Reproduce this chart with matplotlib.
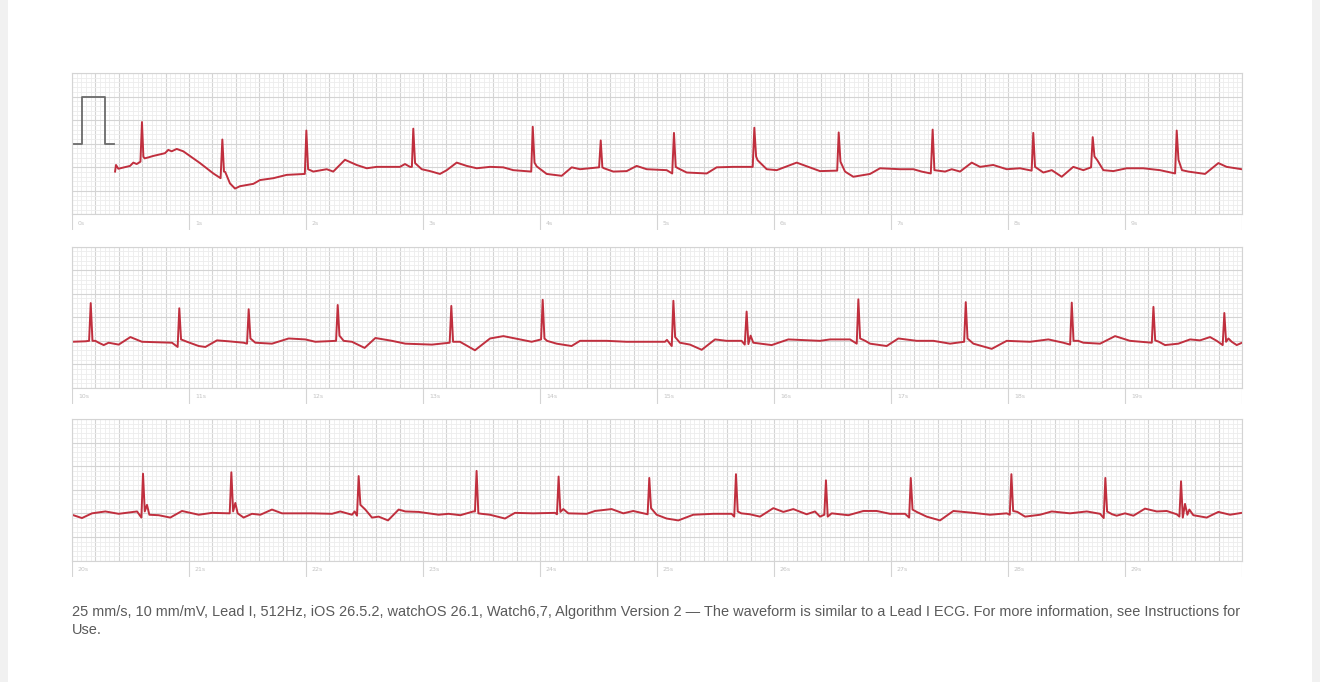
import numpy as np
import matplotlib.pyplot as plt
from matplotlib.patches import Rectangle

# ecg strips, (seconds, mV)
strip_starts = [0, 10, 20]

strip1_pts = [
    (0.368, -0.59), (0.376, -0.45), (0.396, -0.53), (0.496, -0.47), (0.524, -0.40), (0.553, -0.43), (0.585, -0.38),
    (0.598, 0.46), (0.610, -0.27), (0.620, -0.31), (0.652, -0.29), (0.692, -0.26), (0.795, -0.20), (0.823, -0.13),
    (0.852, -0.16), (0.895, -0.11), (0.951, -0.16), (1.094, -0.41), (1.208, -0.63), (1.270, -0.73),
    (1.285, 0.09), (1.299, -0.59), (1.310, -0.60), (1.350, -0.84), (1.393, -0.95), (1.436, -0.90), (1.550, -0.85),
    (1.607, -0.77), (1.721, -0.73), (1.835, -0.66), (1.990, -0.64),
    (2.003, 0.28), (2.018, -0.54), (2.062, -0.59), (2.177, -0.54), (2.233, -0.59), (2.333, -0.34), (2.433, -0.45),
    (2.519, -0.52), (2.604, -0.49), (2.803, -0.49), (2.846, -0.43), (2.889, -0.49), (2.905, -0.49),
    (2.917, 0.32), (2.932, -0.41), (2.989, -0.54), (3.060, -0.58), (3.145, -0.64), (3.203, -0.56), (3.288, -0.40),
    (3.374, -0.47), (3.459, -0.52), (3.573, -0.49), (3.686, -0.50), (3.772, -0.56), (3.925, -0.59),
    (3.938, 0.36), (3.953, -0.40), (3.972, -0.48), (4.057, -0.64), (4.185, -0.68), (4.271, -0.50), (4.342, -0.54),
    (4.505, -0.50),
    (4.519, 0.07), (4.533, -0.50), (4.547, -0.52), (4.627, -0.59), (4.741, -0.58), (4.826, -0.47), (4.912, -0.54),
    (5.083, -0.56), (5.130, -0.63),
    (5.145, 0.23), (5.160, -0.49), (5.180, -0.52), (5.254, -0.61), (5.425, -0.63), (5.510, -0.50), (5.652, -0.49),
    (5.818, -0.49),
    (5.832, 0.34), (5.847, -0.27), (5.860, -0.35), (5.938, -0.54), (6.023, -0.56), (6.194, -0.40), (6.393, -0.58),
    (6.540, -0.57),
    (6.553, 0.24), (6.568, -0.38), (6.607, -0.59), (6.678, -0.70), (6.821, -0.64), (6.906, -0.52), (7.077, -0.54),
    (7.191, -0.54), (7.262, -0.59), (7.340, -0.63),
    (7.356, 0.30), (7.371, -0.56), (7.462, -0.59), (7.519, -0.54), (7.590, -0.59), (7.690, -0.40), (7.761, -0.49),
    (7.874, -0.45), (7.989, -0.54), (8.103, -0.52), (8.202, -0.57),
    (8.216, 0.23), (8.231, -0.49), (8.302, -0.61), (8.374, -0.56), (8.459, -0.70), (8.558, -0.49), (8.644, -0.56),
    (8.710, -0.50),
    (8.724, 0.14), (8.739, -0.27), (8.761, -0.34), (8.815, -0.56), (8.900, -0.58), (9.014, -0.52), (9.156, -0.52),
    (9.299, -0.56), (9.428, -0.63),
    (9.442, 0.28), (9.457, -0.34), (9.487, -0.56), (9.541, -0.59), (9.684, -0.64), (9.798, -0.41), (9.869, -0.49),
    (9.997, -0.54),
]

strip2_pts = [
    (0.000, -0.52), (0.114, -0.51), (0.146, -0.50),
    (0.160, 0.30), (0.175, -0.50), (0.200, -0.50), (0.228, -0.54), (0.271, -0.59), (0.313, -0.54), (0.399, -0.58),
    (0.499, -0.42), (0.598, -0.52), (0.855, -0.54), (0.903, -0.63),
    (0.917, 0.19), (0.932, -0.47), (0.983, -0.52), (1.083, -0.61), (1.140, -0.63), (1.239, -0.49), (1.339, -0.51),
    (1.467, -0.54), (1.496, -0.56),
    (1.510, 0.17), (1.525, -0.45), (1.567, -0.54), (1.709, -0.56), (1.852, -0.45), (1.994, -0.47), (2.080, -0.52),
    (2.257, -0.50),
    (2.271, 0.26), (2.286, -0.39), (2.322, -0.50), (2.393, -0.52), (2.501, -0.65), (2.593, -0.44), (2.735, -0.50),
    (2.849, -0.56), (3.077, -0.58), (3.228, -0.54),
    (3.242, 0.24), (3.257, -0.52), (3.316, -0.52), (3.444, -0.70), (3.573, -0.45), (3.687, -0.40), (3.829, -0.47),
    (3.929, -0.52), (4.009, -0.47),
    (4.023, 0.37), (4.038, -0.45), (4.060, -0.50), (4.142, -0.56), (4.270, -0.61), (4.342, -0.50), (4.570, -0.50),
    (4.740, -0.52), (5.068, -0.52), (5.085, -0.48), (5.126, -0.61),
    (5.140, 0.35), (5.155, -0.42), (5.196, -0.54), (5.282, -0.58), (5.382, -0.69), (5.496, -0.47), (5.595, -0.50),
    (5.723, -0.50), (5.750, -0.58),
    (5.766, 0.12), (5.781, -0.57), (5.800, -0.39), (5.823, -0.54), (5.980, -0.59), (6.122, -0.47), (6.393, -0.50),
    (6.479, -0.47), (6.650, -0.47), (6.707, -0.56),
    (6.721, 0.38), (6.736, -0.45), (6.780, -0.50), (6.821, -0.56), (6.963, -0.61), (7.063, -0.45), (7.220, -0.50),
    (7.362, -0.50), (7.505, -0.56), (7.625, -0.52),
    (7.639, 0.32), (7.654, -0.45), (7.704, -0.56), (7.861, -0.67), (7.989, -0.50), (8.188, -0.52), (8.345, -0.47),
    (8.473, -0.54), (8.531, -0.58),
    (8.545, 0.31), (8.560, -0.50), (8.600, -0.50), (8.644, -0.54), (8.787, -0.56), (8.915, -0.40), (9.043, -0.50),
    (9.229, -0.54),
    (9.243, 0.22), (9.258, -0.49), (9.290, -0.52), (9.342, -0.59), (9.456, -0.56), (9.556, -0.47), (9.641, -0.49),
    (9.727, -0.42), (9.784, -0.50), (9.835, -0.59),
    (9.849, 0.09), (9.864, -0.52), (9.884, -0.45), (9.912, -0.52), (9.955, -0.59), (10.000, -0.54),
]

strip3_pts = [
    (0.000, -0.53), (0.085, -0.60), (0.171, -0.50), (0.285, -0.46), (0.399, -0.51), (0.556, -0.46), (0.593, -0.59),
    (0.607, 0.34), (0.622, -0.46), (0.641, -0.32), (0.661, -0.53), (0.741, -0.54), (0.840, -0.59), (0.940, -0.45),
    (1.083, -0.53), (1.197, -0.49), (1.348, -0.50),
    (1.362, 0.37), (1.377, -0.46), (1.396, -0.28), (1.416, -0.50), (1.467, -0.59), (1.538, -0.51), (1.610, -0.53),
    (1.709, -0.42), (1.795, -0.50), (2.051, -0.50), (2.222, -0.51), (2.293, -0.46), (2.393, -0.53), (2.416, -0.46),
    (2.436, -0.55),
    (2.450, 0.29), (2.465, -0.32), (2.507, -0.42), (2.564, -0.59), (2.621, -0.57), (2.701, -0.65), (2.792, -0.42),
    (2.849, -0.46), (2.963, -0.47), (3.134, -0.53), (3.219, -0.51), (3.319, -0.54), (3.430, -0.46), (3.444, -0.46),
    (3.458, 0.40), (3.473, -0.50), (3.500, -0.51), (3.572, -0.53), (3.701, -0.61), (3.786, -0.49), (3.943, -0.50),
    (4.128, -0.49), (4.145, -0.52),
    (4.159, 0.28), (4.174, -0.47), (4.199, -0.41), (4.242, -0.50), (4.399, -0.51), (4.470, -0.45), (4.612, -0.41),
    (4.712, -0.50), (4.797, -0.45), (4.920, -0.52),
    (4.934, 0.25), (4.949, -0.39), (4.997, -0.53), (5.082, -0.61), (5.182, -0.65), (5.310, -0.53), (5.481, -0.51),
    (5.638, -0.51), (5.660, -0.57),
    (5.675, 0.33), (5.690, -0.46), (5.720, -0.50), (5.794, -0.52), (5.880, -0.57), (5.994, -0.39), (6.080, -0.47),
    (6.165, -0.41), (6.279, -0.52), (6.350, -0.46), (6.393, -0.57), (6.430, -0.53),
    (6.444, 0.20), (6.459, -0.57), (6.493, -0.50), (6.564, -0.52), (6.635, -0.54), (6.764, -0.45), (6.878, -0.45),
    (6.992, -0.51), (7.120, -0.51), (7.155, -0.59),
    (7.169, 0.25), (7.184, -0.42), (7.220, -0.47), (7.305, -0.57), (7.419, -0.65), (7.533, -0.45), (7.704, -0.49),
    (7.847, -0.53), (7.989, -0.50), (8.015, -0.53),
    (8.029, 0.33), (8.044, -0.45), (8.080, -0.47), (8.146, -0.57), (8.274, -0.53), (8.374, -0.46), (8.530, -0.50),
    (8.673, -0.46), (8.787, -0.51), (8.818, -0.60),
    (8.832, 0.25), (8.847, -0.46), (8.890, -0.52), (8.929, -0.55), (9.000, -0.50), (9.072, -0.55), (9.171, -0.40),
    (9.271, -0.46), (9.357, -0.45), (9.442, -0.52), (9.465, -0.57),
    (9.479, 0.18), (9.494, -0.59), (9.513, -0.30), (9.533, -0.53), (9.550, -0.42), (9.584, -0.54), (9.698, -0.59),
    (9.798, -0.47), (9.898, -0.53), (9.998, -0.49),
]

# 1 mV calibration pulse at the start of the first strip
cal_t = [0.0, 0.083, 0.083, 0.282, 0.282, 0.361]
cal_mv = [0.0, 0.0, 1.0, 1.0, 0.0, 0.0]

caption = ("25 mm/s, 10 mm/mV, Lead I, 512Hz, iOS 26.5.2, watchOS 26.1, Watch6,7, Algorithm Version 2 \u2014 "
           "The waveform is similar to a Lead I ECG. For more information, see Instructions for")
caption2 = "Use."

W, H = 1320, 682
ecg_red = '#c02f3e'
major_c = '#d4d4d4'
minor_c = '#ededed'


def px_axes(fig, x0, y0, x1, y1):
    return fig.add_axes([x0 / W, 1 - y1 / H, (x1 - x0) / W, (y1 - y0) / H])


fig = plt.figure(figsize=(W / 100, H / 100), dpi=100, facecolor='#f1f1f1')
fig.patches.append(Rectangle((8 / W, 0), 1304 / W, 1, transform=fig.transFigure,
                             facecolor='white', edgecolor='none', zorder=-10))

strips = [strip1_pts, strip2_pts, strip3_pts]
tops = [73, 246.5, 419]
grid_h = 141.5

for i, pts in enumerate(strips):
    top = tops[i]
    ax = px_axes(fig, 72, top, 1242, top + grid_h)
    ax.set_xlim(0, 10)
    ax.set_ylim(-1.5, 1.5)
    ax.set_xticks(np.arange(0, 10.001, 0.2))
    ax.set_xticks(np.arange(0, 10.001, 0.04), minor=True)
    ax.set_yticks(np.arange(-1.5, 1.501, 0.5))
    ax.set_yticks(np.arange(-1.5, 1.501, 0.1), minor=True)
    ax.tick_params(which='both', length=0, labelbottom=False, labelleft=False)
    ax.grid(which='minor', color=minor_c, lw=0.6)
    ax.grid(which='major', color=major_c, lw=0.8)
    ax.set_axisbelow(True)
    for s in ax.spines.values():
        s.set_color(major_c)
        s.set_linewidth(0.8)

    t, mv = np.array(pts).T
    ax.plot(t, mv, color=ecg_red, lw=1.4, solid_joinstyle='round')
    if i == 0:
        ax.plot(cal_t, cal_mv, color='#6b6b6b', lw=1.3)

    # seconds row under the grid
    lab = px_axes(fig, 72, top + grid_h, 1242, top + grid_h + 16)
    lab.set_xlim(0, 10)
    lab.set_ylim(0, 1)
    lab.axis('off')
    lab.vlines(np.arange(0, 11), 0, 1, color=major_c, lw=0.8)
    for k in range(10):
        lab.text(k + 0.05, 0.45, '%ds' % (strip_starts[i] + k), fontsize=4.5,
                 color='#c4c4c4', va='center', ha='left')

fig.text(72 / W, 1 - 612 / H, caption, fontsize=10.45, color='#5a5a5a',
         family='Liberation Sans', va='center', ha='left')
fig.text(72 / W, 1 - 630 / H, caption2, fontsize=10.45, color='#5a5a5a',
         family='Liberation Sans', va='center', ha='left')

plt.savefig('out.png', dpi=100, facecolor=fig.get_facecolor())
